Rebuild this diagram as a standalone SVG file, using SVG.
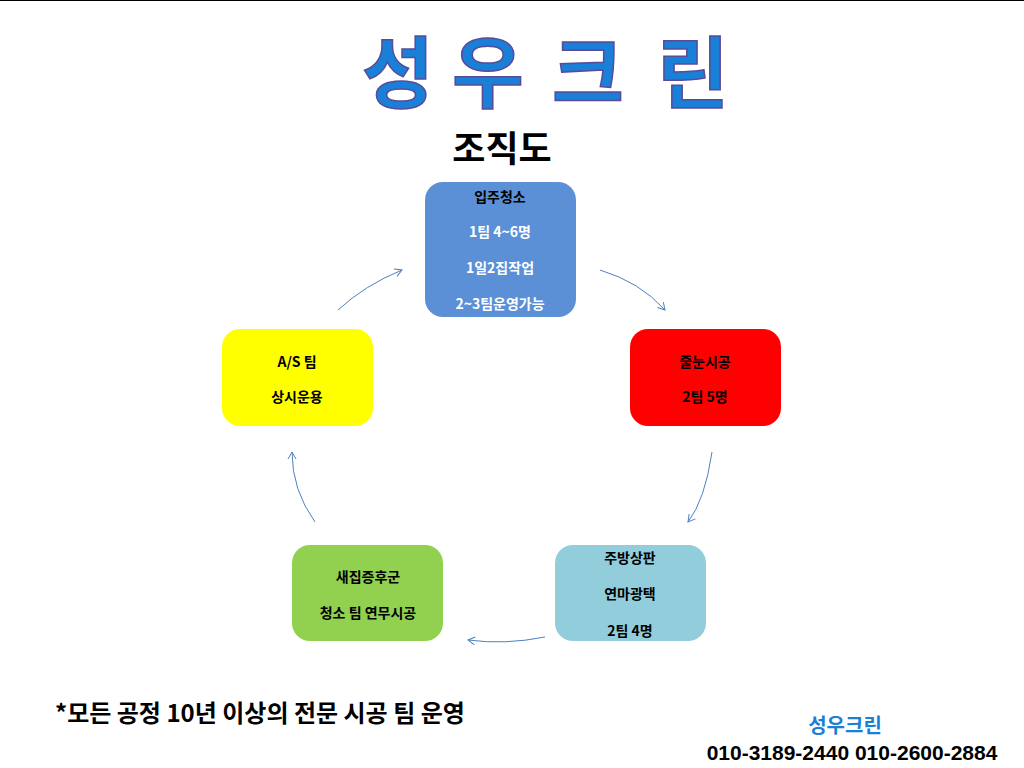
<svg xmlns="http://www.w3.org/2000/svg" width="1024" height="768" viewBox="0 0 1024 768">
<style>
.t{font-family:"Noto Sans CJK KR","Liberation Sans",sans-serif;font-weight:bold;fill:#000;text-anchor:middle}
.n{font-size:14px}
.w{fill:#fff}
.title{font-family:"Noto Sans CJK KR",sans-serif;font-weight:bold;font-size:78px;fill:#1a7fd6;stroke:#5a4a9a;stroke-width:1.5;text-anchor:middle}
.c{fill:none;stroke:#4f7fc0;stroke-width:1;marker-end:url(#a)}
</style>
<defs>
<marker id="a" markerWidth="10" markerHeight="10" refX="8" refY="5" orient="auto" markerUnits="userSpaceOnUse"><path d="M1,1 L8,5 L1,9" fill="none" stroke="#4f7fc0" stroke-width="1"/></marker>
</defs>
<rect width="1024" height="768" fill="#fff"/>
<line x1="0" y1="0.5" x2="1024" y2="0.5" stroke="#000"/>
<g id="title">
<text class="title" x="398" y="102">성</text>
<text class="title" x="488" y="102">우</text>
<text class="title" x="588" y="102">크</text>
<text class="title" x="693" y="102">린</text>
</g>
<text class="t" x="502" y="162" font-size="36">조직도</text>
<g id="connectors">
<path class="c" d="M338,310 Q365,285 402,270"/>
<path class="c" d="M600,270 Q640,282 665,310"/>
<path class="c" d="M712,452 Q705,500 688,522"/>
<path class="c" d="M545,637 Q505,645 468,640"/>
<path class="c" d="M315,522 Q292,490 292,452"/>
</g>
<g id="n1">
<rect x="425" y="182" width="151" height="135" rx="18" fill="#5b8fd6"/>
<text class="t n" x="500" y="202">입주청소</text>
<text class="t n w" x="500" y="237">1팀 4~6명</text>
<text class="t n w" x="500" y="273">1일2집작업</text>
<text class="t n w" x="500" y="309">2~3팀운영가능</text>
</g>
<g id="n2">
<rect x="630" y="329" width="151" height="97" rx="18" fill="#ff0000"/>
<text class="t n" x="705" y="367">줄눈시공</text>
<text class="t n" x="705" y="402">2팀 5명</text>
</g>
<g id="n3">
<rect x="555" y="545" width="151" height="96" rx="18" fill="#92cddc"/>
<text class="t n" x="630" y="563">주방상판</text>
<text class="t n" x="630" y="599">연마광택</text>
<text class="t n" x="630" y="636">2팀 4명</text>
</g>
<g id="n4">
<rect x="292" y="545" width="151" height="96" rx="18" fill="#92d050"/>
<text class="t n" x="368" y="582">새집증후군</text>
<text class="t n" x="368" y="618">청소 팀 연무시공</text>
</g>
<g id="n5">
<rect x="222" y="329" width="151" height="97" rx="18" fill="#ffff00"/>
<text class="t n" x="297" y="367">A/S 팀</text>
<text class="t n" x="297" y="402">상시운용</text>
</g>
<text class="t" x="55" y="722" font-size="24" style="text-anchor:start">*모든 공정 10년 이상의 전문 시공 팀 운영</text>
<text class="t" x="845" y="733" font-size="20" style="fill:#1a7fd6">성우크린</text>
<text class="t" x="852" y="760" font-size="21" style="font-family:'Liberation Sans',sans-serif">010-3189-2440  010-2600-2884</text>
</svg>
